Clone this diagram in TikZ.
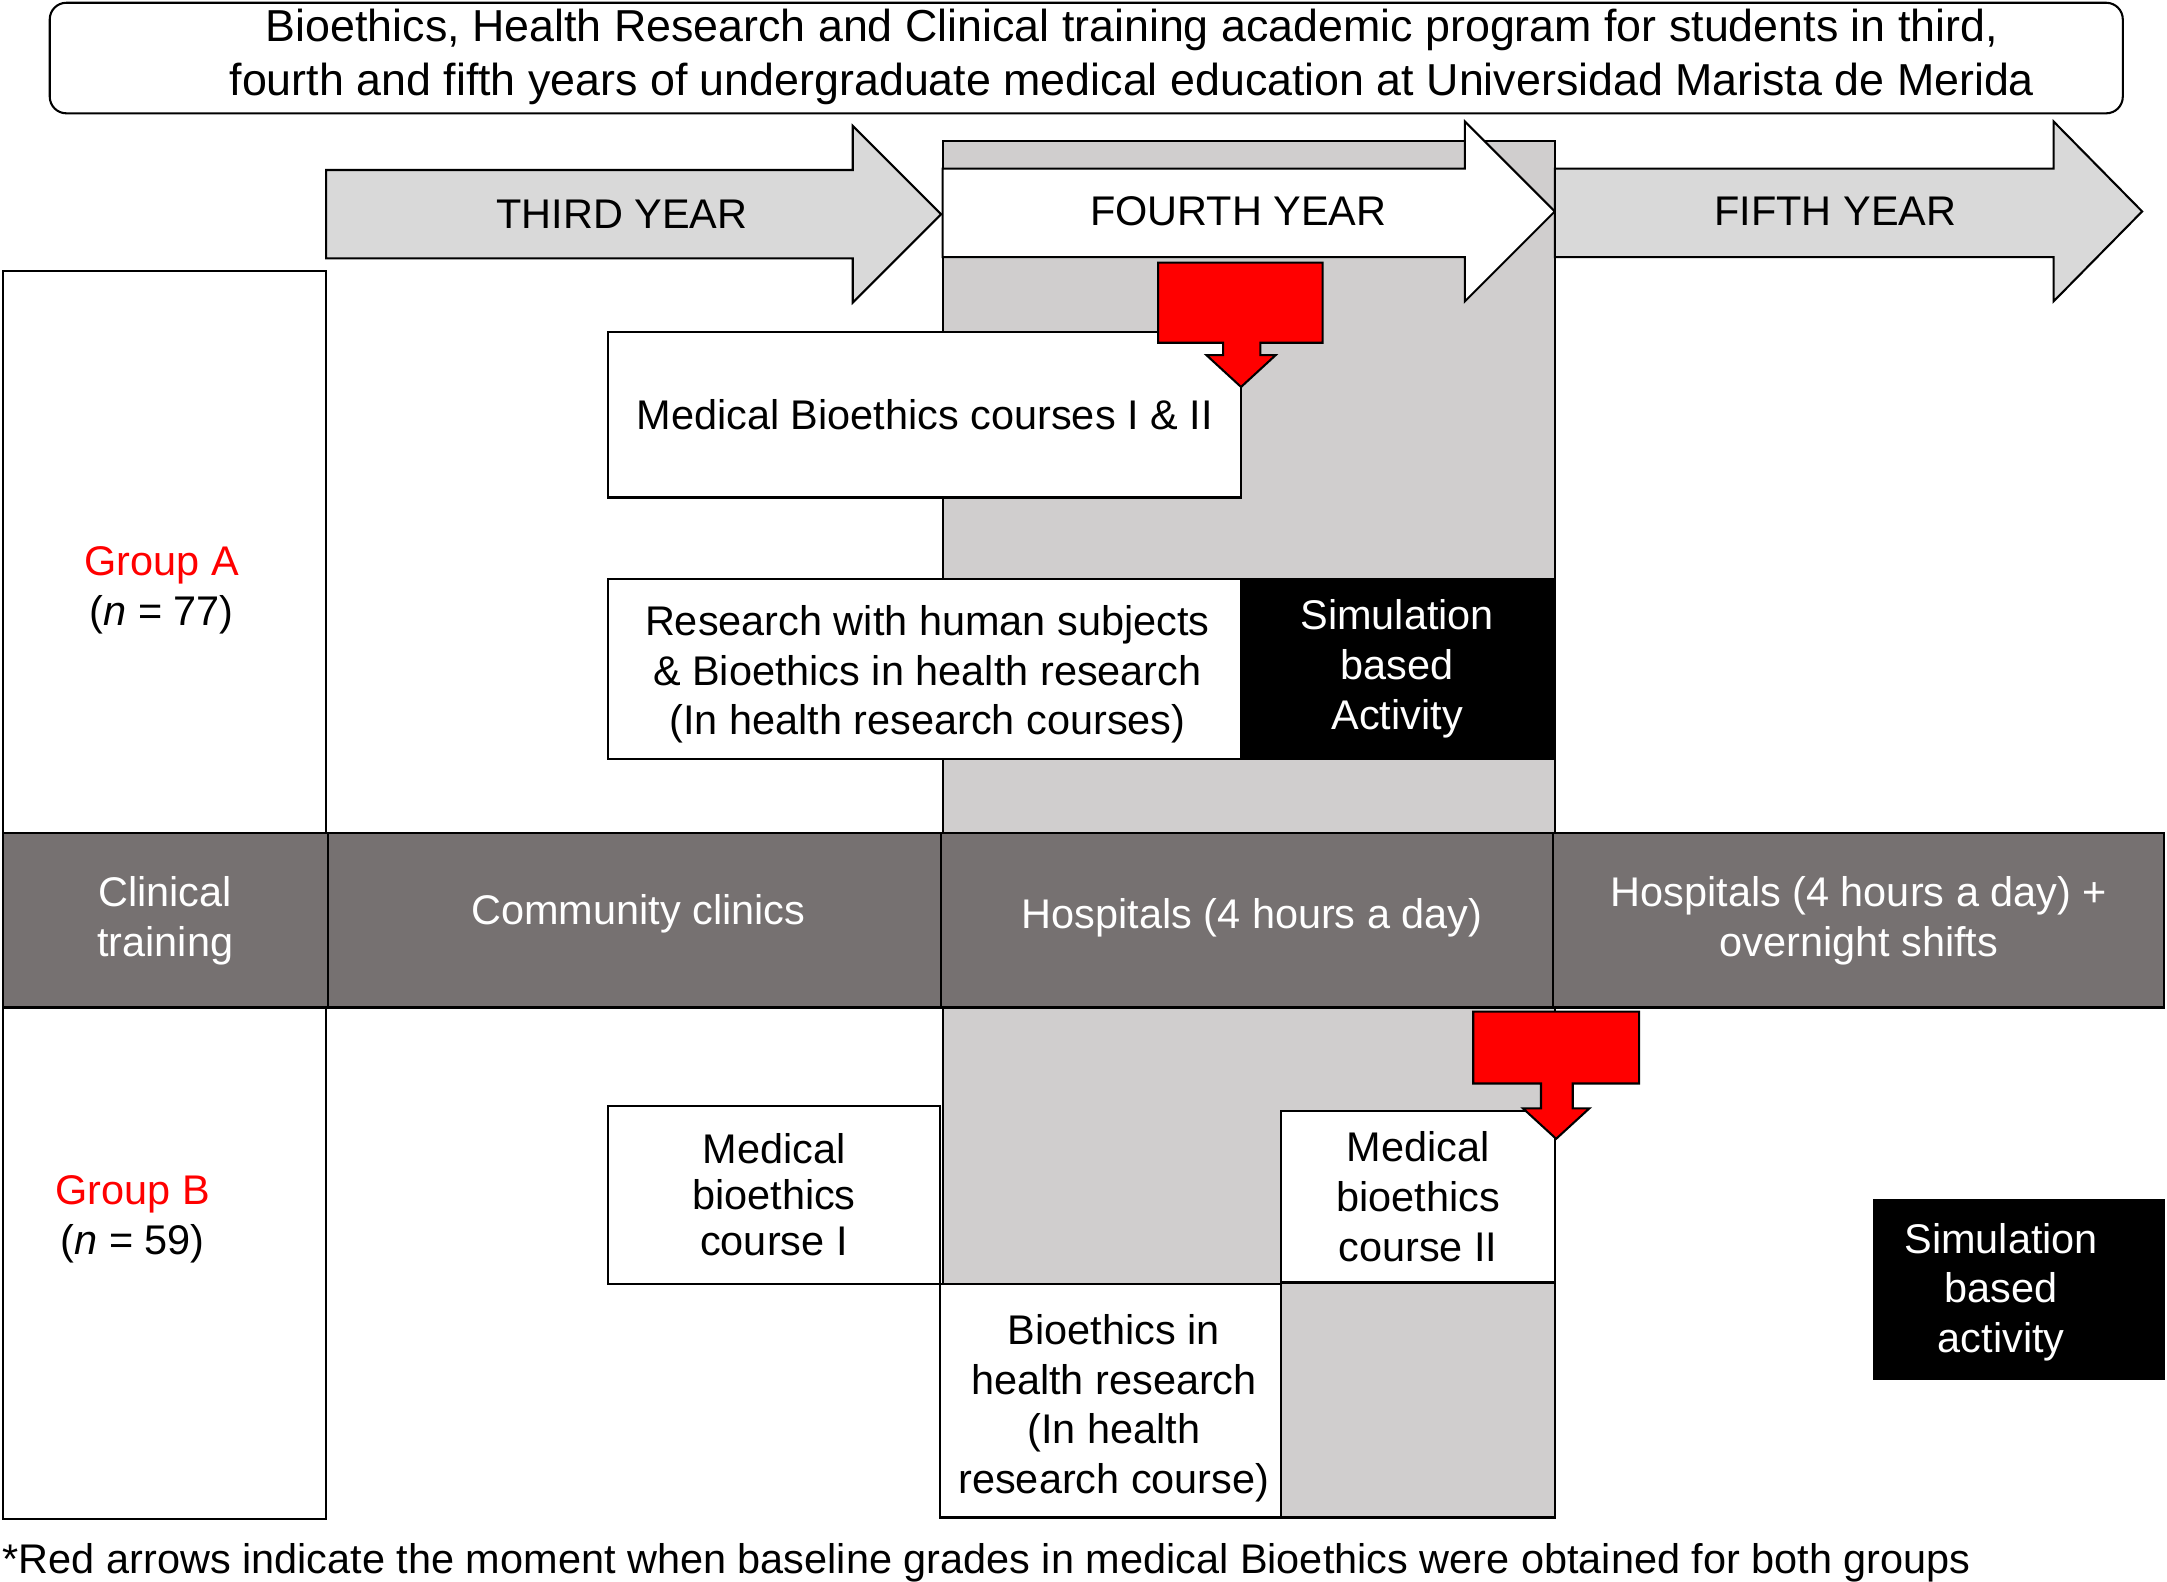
\documentclass[tikz,border=0pt]{standalone}
\usepackage{fontspec}
\setmainfont{Liberation Sans}
\definecolor{lgray}{RGB}{217,217,217}
\definecolor{colgray}{RGB}{208,206,206}
\definecolor{dgray}{RGB}{118,113,113}
\definecolor{myred}{RGB}{255,0,0}
\newcommand\myfs{\fontsize{30}{36}\selectfont}
\begin{document}
\begin{tikzpicture}[x=1pt,y=-1pt,
  every node/.style={font=\myfs, inner sep=0pt, outer sep=0pt},
  bx/.style={draw=black, line width=1.5pt, fill=white, anchor=north west, align=center},
  blk/.style={draw=black, line width=1.5pt, fill=black, text=white, anchor=north west, align=center},
  band/.style={draw=black, line width=1.5pt, fill=dgray, text=white, anchor=north west, align=center},
  yeararrow/.style={draw=black, line width=1.5pt, line join=miter},
  redarrow/.style={draw=black, line width=1.5pt, fill=myred, line join=miter},
  lbl/.style={align=center}]
\useasboundingbox (0,0) rectangle (1568,1144.7);

% fourth-year column
\node[draw=black, line width=1.5pt, fill=colgray, anchor=north west, minimum width=443pt, minimum height=996pt] (col) at (682,102) {};

% title
\node[draw=black, line width=1.5pt, rounded corners=12pt, anchor=north west, minimum width=1500pt, minimum height=80pt] (titlebox) at (36,2) {};
\node[lbl, font=\fontsize{32.4}{39}\selectfont] (title) at (819,41) {Bioethics, Health Research and Clinical training academic program for students in third,\\fourth and fifth years of undergraduate medical education at Universidad Marista de Merida};

% year arrows
\draw[yeararrow, fill=lgray] (236,123) -- (617,123) -- (617,91) -- (681,155) -- (617,219) -- (617,187) -- (236,187) -- cycle;
\draw[yeararrow, fill=white] (682,122) -- (1060,122) -- (1060,88) -- (1125,153) -- (1060,218) -- (1060,186) -- (682,186) -- cycle;
\draw[yeararrow, fill=lgray] (1125,122) -- (1486,122) -- (1486,88) -- (1550,153) -- (1486,218) -- (1486,186) -- (1125,186) -- cycle;
\node (y3) at (450,155) {THIRD YEAR};
\node (y4) at (896,153) {FOURTH YEAR};
\node (y5) at (1328,153) {FIFTH YEAR};

% group boxes
\node[bx, minimum width=234pt, minimum height=407pt] (ga) at (2,196) {};
\node[lbl] (gal) at (117,427) {\textcolor{myred}{Group A}\\(\textit{n} = 77)};
\node[bx, minimum width=234pt, minimum height=370pt] (gb) at (2,729) {};
\node[lbl] (gbl) at (96,882) {\textcolor{myred}{Group B}\\(\textit{n} = 59)};

% clinical training band
\node[band, minimum width=235pt, minimum height=126pt] (ct) at (2,603) {Clinical\\training};
\node[band, minimum width=444pt, minimum height=126pt] (cc) at (237,603) {};
\node[text=white] (cct) at (462,661) {Community clinics};
\node[band, minimum width=443pt, minimum height=126pt] (h4) at (681,603) {};
\node[text=white] (h4t) at (906,664) {Hospitals (4 hours a day)};
\node[band, minimum width=442pt, minimum height=126pt] (h5) at (1124,603) {Hospitals (4 hours a day) +\\overnight shifts};

% group A courses
\node[bx, minimum width=458pt, minimum height=120pt] (mb) at (440,240) {Medical Bioethics courses I \& II};
\node[bx, minimum width=458pt, minimum height=130pt] (rh) at (440,419) {};
\node[lbl] (rht) at (671,488) {Research with human subjects\\\& Bioethics in health research\\(In health research courses)};
\node[blk, minimum width=226pt, minimum height=130pt] (sa) at (898,419) {Simulation\\based\\Activity};

% group B courses
\node[bx, minimum width=240pt, minimum height=129pt, font={\fontsize{30}{33}\selectfont}] (m1) at (440,800) {Medical\\bioethics\\course I};
\node[bx, minimum width=247pt, minimum height=169pt] (bh) at (680,929) {};
\node[lbl] (bht) at (806,1019) {Bioethics in\\health research\\(In health\\research course)};
\node[bx, minimum width=198pt, minimum height=124pt] (m2) at (927,804) {Medical\\bioethics\\course II};
\node[blk, minimum width=210pt, minimum height=130pt] (sb) at (1356,868) {};
\node[lbl, text=white] (sbt) at (1448,935) {Simulation\\based\\activity};

% red arrows
\draw[redarrow] (838,190) -- (957,190) -- (957,248) -- (912,248) -- (912,257) -- (923,257) -- (898,280) -- (873,257) -- (885,257) -- (885,248) -- (838,248) -- cycle;
\draw[redarrow] (1066,732) -- (1186,732) -- (1186,784) -- (1138,784) -- (1138,802) -- (1150,802) -- (1126,824) -- (1102,802) -- (1115,802) -- (1115,784) -- (1066,784) -- cycle;

% footnote
\node[anchor=west] (fn) at (2,1131) {*Red arrows indicate the moment when baseline grades in medical Bioethics were obtained for both groups};
\end{tikzpicture}
\end{document}
